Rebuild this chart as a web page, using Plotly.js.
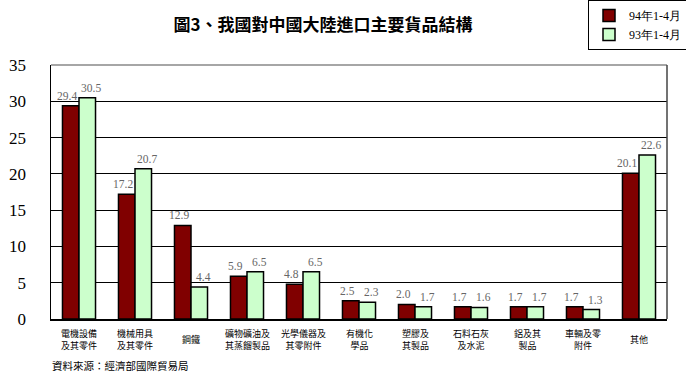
<!DOCTYPE html>
<html><head><meta charset="utf-8">
<script src="https://cdn.plot.ly/plotly-3.0.1.min.js"></script>
<style>html,body{margin:0;padding:0;background:#fff}</style>
</head><body>
<div id="chart" style="width:686px;height:376px"></div>
<script>
const categories = ["電機設備<br>及其零件","機械用具<br>及其零件","鋼鐵","礦物礦油及<br>其蒸餾製品","光學儀器及<br>其零附件","有機化<br>學品","塑膠及<br>其製品","石料石灰<br>及水泥","鋁及其<br>製品","車輛及零<br>附件","其他"];
const series94 = [29.4,17.2,12.9,5.9,4.8,2.5,2.0,1.7,1.7,1.7,20.1];
const series93 = [30.5,20.7,4.4,6.5,6.5,2.3,1.7,1.6,1.7,1.3,22.6];
const name94 = "94年1-4月";
const name93 = "93年1-4月";
const yTicks = [0,5,10,15,20,25,30,35];

const idx = categories.map((c,i)=>i);
const serif = "Liberation Serif, DejaVu Serif, serif";
const cjk = "Noto Sans CJK TC, Noto Sans CJK SC, sans-serif";

const traces = [
  {type:'bar', name:name94, x:idx, y:series94, marker:{color:'#800000', line:{color:'#000', width:1.5}}},
  {type:'bar', name:name93, x:idx, y:series93, marker:{color:'#CCFFCC', line:{color:'#000', width:1.5}}}
];

const annotations = categories.map((c,i)=>({
  x:i, xref:'x', y:-0.08, yref:'paper', text:c, showarrow:false,
  xanchor:'center', yanchor:'middle', font:{family:cjk, size:9, color:'#000'}
}));
// value labels above the bars (drawn on top so neighbouring bars never hide them)
[[series94,-12],[series93,12]].forEach(([vals,shift])=>{
  vals.forEach((v,i)=>annotations.push({
    x:i, xref:'x', y:v, yref:'y', text:v.toFixed(1), showarrow:false,
    xanchor:'center', yanchor:'bottom', xshift:shift, yshift:2,
    font:{family:serif, size:11.5, color:'#666'}
  }));
});
annotations.push({x:-0.002, xref:'paper', y:-0.185, yref:'paper', text:'資料來源：經濟部國際貿易局',
  showarrow:false, xanchor:'left', yanchor:'middle', font:{family:cjk, size:10.5, color:'#000'}});

const layout = {
  width:686, height:376,
  margin:{l:51, r:19, t:65, b:57, autoexpand:false},
  paper_bgcolor:'#fff', plot_bgcolor:'#fff',
  title:{text:'<b>圖3、我國對中國大陸進口主要貨品結構</b>', x:0.4416, xref:'paper', xanchor:'center',
    y:0.9335, yref:'container', yanchor:'middle',
    font:{family:cjk, size:17, color:'#000'}},
  barmode:'group', bargap:0.41, bargroupgap:0,
  showlegend:true,
  legend:{x:588/686, xref:'container', xanchor:'left', y:1.01, yref:'container', yanchor:'top',
    bordercolor:'#000', borderwidth:1,
    bgcolor:'#fff', font:{family:serif, size:12, color:'#000'}, itemwidth:30, tracegroupgap:6},
  xaxis:{range:[-0.5,10.5], tickvals:idx, showticklabels:false, ticks:'', showgrid:false,
    showline:true, linecolor:'#000', linewidth:2, mirror:false, zeroline:false, fixedrange:true},
  yaxis:{range:[0,35], tickvals:yTicks, ticks:'outside', ticklen:20, tickcolor:'rgba(0,0,0,0)',
    tickfont:{family:serif, size:17, color:'#000'}, showgrid:true, gridcolor:'#000', gridwidth:1,
    showline:true, linecolor:'#000', linewidth:1.5, zeroline:false, fixedrange:true},
  shapes:[
    {type:'line', xref:'paper', yref:'paper', x0:0, x1:1, y0:1, y1:1, line:{color:'#888', width:1.5}},
    {type:'line', xref:'paper', yref:'paper', x0:1, x1:1, y0:0, y1:1, line:{color:'#444', width:1.5}}
  ],
  annotations:annotations
};
Plotly.newPlot('chart', traces, layout, {displayModeBar:false, staticPlot:true});
</script>
</body></html>
